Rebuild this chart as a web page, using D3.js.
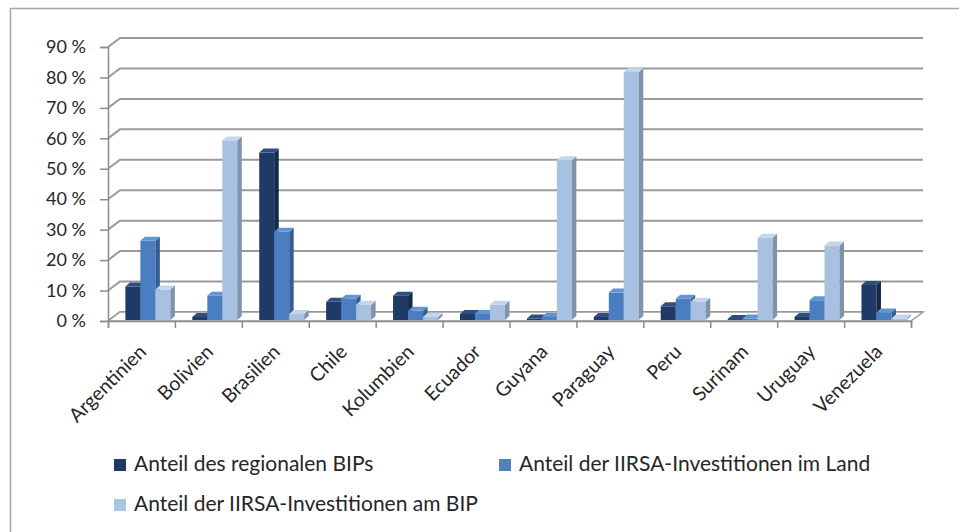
<!DOCTYPE html>
<html>
<head>
<meta charset="utf-8">
<script src="https://cdn.jsdelivr.net/npm/d3@7"></script>
<style>
  body { margin: 0; background: #fff; }
  svg text { font-family: Lato, "Open Sans", sans-serif; fill: #262626; }
</style>
</head>
<body>
<div id="chart"></div>
<script>
// values (percent)
const countries = ["Argentinien", "Bolivien", "Brasilien", "Chile", "Kolumbien", "Ecuador",
                   "Guyana", "Paraguay", "Peru", "Surinam", "Uruguay", "Venezuela"];
const regionalBip = [11, 1, 55, 6, 8, 2, 0.5, 1, 4.5, 0.3, 1, 11.5];
const iirsaLand   = [26, 8, 29, 7, 3, 2, 1, 9, 7, 0.5, 6.5, 2.5];
const iirsaBip    = [10, 59, 2, 5, 1, 5, 52.5, 81.5, 6, 27, 24.5, 0.5];
const seriesNames = ["Anteil des regionalen BIPs",
                     "Anteil der IIRSA-Investitionen im Land",
                     "Anteil der IIRSA-Investitionen am BIP"];
const yTicks = d3.range(0, 100, 10);

const series = [regionalBip, iirsaLand, iirsaBip];
// front / side / top shades of every series
const colors = [
  { front: "#1f3a66", side: "#14284a", top: "#2f4f82", legend: "#1f3864" },
  { front: "#4a7ec0", side: "#355f93", top: "#6494d2", legend: "#4f81bd" },
  { front: "#a8c1e0", side: "#8093ab", top: "#c3d5eb", legend: "#a9c4e4" }
];

const W = 959, H = 532;
const plot = { left: 108, right: 911, top: 47, bottom: 321 };
const wall = { dx: 12, dy: -9 };   // offset of the back wall
const bar = { dx: 4.5, dy: -4 };   // depth of one column

const svg = d3.select("#chart").append("svg")
  .attr("width", W).attr("height", H);

// outer frame
svg.append("rect")
  .attr("x", 10.5).attr("y", 8.5)
  .attr("width", W + 10).attr("height", H + 10)
  .attr("fill", "#fff").attr("stroke", "#a6a6a6").attr("stroke-width", 1.5);

const x = d3.scaleBand().domain(countries).range([plot.left, plot.right]);
const xIdx = d3.scaleLinear().domain([0, countries.length]).range([plot.left, plot.right]);
const y = d3.scaleLinear().domain([0, 90]).range([plot.bottom, plot.top]);

// back wall gridlines with their diagonal on the side wall
svg.append("g").selectAll("path")
  .data(yTicks)
  .join("path")
  .attr("fill", "none")
  .attr("stroke", "#9a9a9a")
  .attr("stroke-width", 2)
  .attr("d", t => `M${plot.left},${y(t)} L${plot.left + wall.dx},${y(t) + wall.dy} L${plot.right + wall.dx},${y(t) + wall.dy}`);

// floor
svg.append("path")
  .attr("fill", "#fff")
  .attr("stroke", "#9a9a9a")
  .attr("stroke-width", 1.5)
  .attr("d", `M${plot.left},${plot.bottom} L${plot.right},${plot.bottom} L${plot.right + wall.dx},${plot.bottom + wall.dy} L${plot.left + wall.dx},${plot.bottom + wall.dy}Z`);

// y axis
const yAxis = svg.append("g")
  .attr("transform", `translate(${plot.left},0)`)
  .call(d3.axisLeft(y).tickValues(yTicks).tickFormat(d => d + " %").tickSize(8).tickPadding(14));
yAxis.select(".domain").attr("stroke", "#8c8c8c").attr("stroke-width", 1.5);
yAxis.selectAll(".tick line").attr("stroke", "#8c8c8c").attr("stroke-width", 1.5);
yAxis.selectAll(".tick text").style("font-size", "18px").attr("fill", "#333");

// x axis ticks at the category borders
const xAxis = svg.append("g")
  .attr("transform", `translate(0,${plot.bottom})`)
  .call(d3.axisBottom(xIdx).tickValues(d3.range(0, countries.length + 1)).tickFormat("").tickSize(7));
xAxis.select(".domain").attr("stroke", "#8c8c8c").attr("stroke-width", 1.5);
xAxis.selectAll(".tick line").attr("stroke", "#8c8c8c").attr("stroke-width", 1.5);

// rotated category labels
svg.append("g").selectAll("text")
  .data(countries)
  .join("text")
  .attr("transform", d => `translate(${x(d) + x.bandwidth() / 2 + 6},${plot.bottom + 32}) rotate(-45)`)
  .attr("text-anchor", "end")
  .style("font-size", "19.5px")
  .text(d => d);

// 3D columns
const bw = x.bandwidth();
const colW = bw * 0.224;
const base = y(0) - 1;
const cols = [];
countries.forEach((c, i) => {
  series.forEach((s, k) => {
    cols.push({ c: c, k: k, v: s[i] });
  });
});

const g = svg.append("g");
cols.forEach(d => {
  const x0 = x(d.c) + bw * 0.245 + d.k * colW + 1;
  const x1 = x0 + colW;
  const yt = y(d.v) - 1;
  const col = colors[d.k];
  g.append("rect")
    .attr("x", x0).attr("y", yt)
    .attr("width", colW).attr("height", base - yt)
    .attr("fill", col.front);
  g.append("path")
    .attr("fill", col.side)
    .attr("d", `M${x1},${base} L${x1 + bar.dx},${base + bar.dy} L${x1 + bar.dx},${yt + bar.dy} L${x1},${yt}Z`);
  g.append("path")
    .attr("fill", col.top)
    .attr("d", `M${x0},${yt} L${x1},${yt} L${x1 + bar.dx},${yt + bar.dy} L${x0 + bar.dx},${yt + bar.dy}Z`);
});

// legend
const legendPos = [[114, 459], [499, 459], [114, 499]];
const legend = svg.append("g").selectAll("g")
  .data(seriesNames)
  .join("g")
  .attr("transform", (d, i) => `translate(${legendPos[i][0]},${legendPos[i][1]})`);
legend.append("rect")
  .attr("width", 12).attr("height", 12)
  .attr("fill", (d, i) => colors[i].legend);
legend.append("text")
  .attr("x", 20).attr("y", 12)
  .style("font-size", "21px")
  .text(d => d);
</script>
</body>
</html>
